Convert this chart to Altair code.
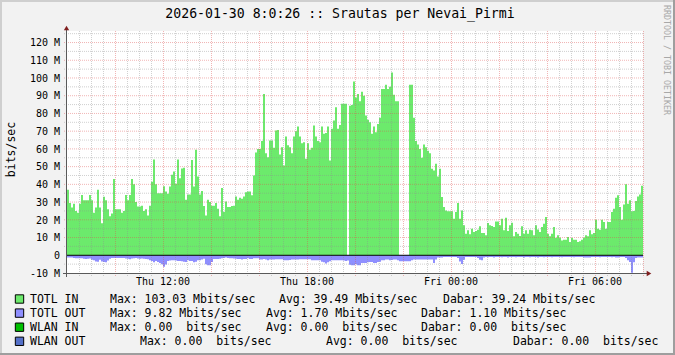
import altair as alt
import pandas as pd

FONT = "DejaVu Sans Mono"

# ---------------- data: Mbit/s, one value per 5-minute step from Thu 08:00 ----------------
totl_in = [
    37, 29.5, 27, 29, 25, 24, 29, 34, 31, 31, 31, 34, 31, 24, 27, 37, 27, 18, 33, 31,
    26, 22, 23.5, 43, 26, 26, 26, 24, 25, 34, 31, 34, 43, 40, 30, 27.5, 27.5, 28, 25, 26,
    22.5, 28, 41.5, 54, 40, 35, 35, 35, 39,
    36, 34.7, 38.8, 45.4, 47.3, 40.3, 54, 43.5, 49, 49.3, 31.3, 34.3, 34.3, 53.8, 38.8, 59.5,
    44.5, 34.3, 36.2, 27.8, 22.5, 31.3, 30, 28, 28, 29.5, 26.3, 22, 38, 24.4, 30.4, 27.2,
    27.2, 27.8, 28, 33.2, 31.3, 32.5, 31.9, 33.2, 35.6, 36, 36, 33.8, 45, 58, 60,
    60, 64.4, 91, 57.6, 55.3, 64.7, 64.7, 60.6, 70.4, 70.7, 56.8, 61, 50.7, 67, 62, 61,
    57.6, 67, 70, 72.6, 67, 63.2, 63.8, 54.4, 63.2, 59.5, 60.6, 73.2, 67, 64.4, 63.8, 72.6,
    68.5, 68.9, 72.6, 53.5, 71.3, 76, 83.5, 71.3, 73.5, 85.4, 85.4, 85.4, 0, 84.4, 84.8, 98, 89,
    91, 86.9, 92.3, 90, 78.8, 76.4, 75, 68.5, 72.6, 69.4, 74, 77.5, 93.8, 93.8, 96.2, 93.8,
    95, 103.03, 90.6, 86.9, 86.9, 0, 0, 0, 0, 0, 96.2, 96.2, 77.5, 64.4, 62.5, 60, 55, 62.5,
    61, 59, 57.6, 48.8, 47.8, 51.6, 44.5, 48.8, 32.8, 27.2, 25.3, 24.8, 24.8,
    24.8, 20.6, 24.4, 29.5, 20.6, 25.3, 16.9, 12.2, 14.1, 11.8, 15, 13.1, 13.7, 14.4, 16.3,
    12.6, 12.6, 11.3, 18.2, 16.9, 16.5, 15.9, 19.1, 19.1, 16.9, 20.6, 14.1, 21.2, 13.7, 16.9,
    18.4, 10.7, 13.1, 12.2, 10.9, 16.3, 12.2, 14.1, 12.2, 14.4, 14.1, 11.3, 16.9, 14.6, 13.1,
    15.9, 17.8, 21.6,
    12.2, 10.7, 12.2, 15.9, 9.9, 11.3, 9.9, 8.4, 8.8, 8.8, 10.3, 7.5, 9.8, 8.8, 8.8, 7.5,
    7.9, 8.8, 9.9, 11.3, 10.7, 14.1, 11.8, 12.6, 20.1, 15, 14.4, 20.1, 18.8, 15, 18.8, 18.8,
    24.4, 26.3, 32.5, 33.8, 27.2, 20.1, 28.7, 40, 29.1, 31, 24.8, 25, 30.6, 33.2, 34.3, 39.24,
]
totl_out = [
    1.3, 1.3, 1.3, 1.5, 1.7, 1.7, 1.7, 1.7, 2.0, 2.1, 2.0, 1.8, 2.5, 2.8, 3.5, 3.6, 2.5, 3.5,
    3.8, 3.9, 3.0, 2.0, 1.5, 1.5, 1.6, 1.5, 1.5, 1.6, 1.5, 1.8, 2.0, 2.2, 1.8, 1.7, 1.6, 1.8,
    1.9, 1.8, 2.0, 2.1, 2.2, 2.8, 3.2, 3.9, 3.2, 3.8, 4.3, 5.0, 6.5,
    5.2, 3.2, 3.0, 2.8, 2.8, 3.0, 3.2, 3.2, 3.4, 3.6, 3.8, 2.8, 3.2, 3.2, 4.0, 3.6, 2.8, 2.8,
    2.4, 2.0, 5.0, 5.6, 5.6, 3.8, 2.1, 2.1, 2.1, 2.0, 1.7, 1.6, 1.3, 1.6, 1.7, 1.7, 1.8, 1.9,
    2.1, 2.1, 2.4, 2.1, 2.1, 1.7, 2.1, 2.1, 1.7, 1.7, 1.7,
    2.4, 2.4, 2.1, 2.4, 2.8, 2.4, 2.4, 2.4, 2.3, 2.2, 2.2, 2.2, 2.8, 2.8, 2.8, 2.6, 2.4, 2.4,
    2.4, 2.4, 2.2, 2.2, 2.2, 2.2, 2.2, 2.2, 2.8, 2.8, 2.8, 2.8, 2.8, 3.6, 3.9, 4.7, 4.0, 3.4,
    2.8, 2.8, 2.8, 2.8, 2.8, 2.8, 3.0, 3.2, 3.0, 5.4, 5.6, 5.6, 5.0,
    5.6, 5.6, 4.3, 4.3, 4.3, 4.0, 3.8, 3.8, 4.3, 4.3, 3.8, 3.6, 2.8, 2.8, 2.4, 2.4, 2.8, 2.6,
    2.4, 2.4, 2.8, 3.4, 3.4, 3.4, 3.4, 3.4, 3.4, 2.8, 2.4, 2.4, 2.4, 2.4, 2.4, 2.4, 2.4, 2.4,
    2.4, 2.4, 4.3, 2.4, 1.3, 1.3, 1.3, 1.0, 1.0, 1.0, 1.0,
    1.0, 1.0, 1.0, 1.5, 3.5, 4.9, 2.5, 1.0, 1.0, 1.0, 1.0, 1.0, 1.0, 1.5, 2.5, 2.8, 1.2,
    1.0, 1.1, 1.0, 1.0, 1.2, 1.0, 1.0, 1.0, 1.1, 1.0, 1.0, 1.2, 1.0, 1.0, 1.0, 1.1, 1.0,
    1.0, 1.0, 1.2, 1.0, 1.0, 1.1, 1.0, 1.0, 1.0, 1.2, 1.0, 1.0, 1.1, 1.0,
    1.0, 1.0, 1.1, 1.0, 1.0, 1.0, 1.0, 1.1, 1.0, 1.0, 1.0, 1.0, 1.0, 1.1, 1.0, 1.0, 1.0, 1.0,
    1.2, 1.3, 1.2, 1.2, 1.0, 1.0, 1.0, 1.0, 1.1, 1.0, 1.0, 1.0, 1.0, 1.0, 1.1, 1.0,
    1.3, 1.3, 1.0, 1.0, 1.0, 1.5, 2.8, 3.8, 9.82, 4.0, 1.5, 1.3, 1.3, 1.3,
]
step_minutes = 5

x_tick_hours = [4, 10, 16, 22]
x_tick_labels = ["Thu 12:00", "Thu 18:00", "Fri 00:00", "Fri 06:00"]
y_tick_values = [-10, 0, 10, 20, 30, 40, 50, 60, 70, 80, 90, 100, 110, 120]
y_tick_labels = ["-10 M", "0", "10 M", "20 M", "30 M", "40 M", "50 M", "60 M",
                 "70 M", "80 M", "90 M", "100 M", "110 M", "120 M"]

legend_names = ["TOTL IN", "TOTL OUT", "WLAN IN", "WLAN OUT"]
legend_colors = ["#6CEA6C", "#8F8FFF", "#00C000", "#5470C8"]
legend_max = ["103.03 Mbits/sec", "9.82 Mbits/sec", "0.00  bits/sec", "0.00  bits/sec"]
legend_avg = ["39.49 Mbits/sec", "1.70 Mbits/sec", "0.00  bits/sec", "0.00  bits/sec"]
legend_cur = ["39.24 Mbits/sec", "1.10 Mbits/sec", "0.00  bits/sec", "0.00  bits/sec"]

title_text = "2026-01-30 8:0:26 :: Srautas per Nevai_Pirmi"
y_title = "bits/sec"
watermark = "RRDTOOL / TOBI OETIKER"

# ---------------- layout ----------------
W, H = 576, 242
GRID_MINOR = "#8F8F8F"
GRID_MAJOR = "#DE4F4F"
GRID_OPACITY = 0.42
ARROW = "#801F1F"
AXIS = "#5A5A5A"

n = min(len(totl_in), len(totl_out))
hours = [i * step_minutes / 60 for i in range(n)] + [24]
df = pd.DataFrame({
    "t": hours,
    "in": totl_in[:n] + [totl_in[n - 1]],
    "out": [-v for v in totl_out[:n]] + [-totl_out[n - 1]],
})

xs = alt.Scale(domain=[0, 24], nice=False, zero=False)
ys = alt.Scale(domain=[-10, 126.5], nice=False, zero=False)
X = alt.X("t:Q", scale=xs, axis=None)


def Yf(f):
    return alt.Y(f"{f}:Q", scale=ys, axis=None)


one = pd.DataFrame({"k": [0]})


def txt(s, x, y, size=11.5, align="left", angle=None, color="black", baseline="alphabetic", dy=0):
    kw = dict(font=FONT, fontSize=size, align=align, baseline=baseline, color=color)
    if angle is not None:
        kw["angle"] = angle
    if dy:
        kw["dy"] = dy
    return alt.Chart(one).mark_text(**kw).encode(
        x=alt.value(x), y=alt.value(y), text=alt.value(s.replace(" ", "\u00a0")))


def hrule(x1, x2, y, color, w=1):
    return alt.Chart(one).mark_rule(color=color, strokeWidth=w).encode(
        x=alt.value(x1), x2=alt.value(x2), y=alt.value(y))


def vrule(x, y1, y2, color, w=1):
    return alt.Chart(one).mark_rule(color=color, strokeWidth=w).encode(
        x=alt.value(x), y=alt.value(y1), y2=alt.value(y2))


layers = []
layers.append(alt.Chart(df).mark_area(interpolate="step-after", color=legend_colors[0], opacity=1)
              .encode(x=X, y=Yf("in"), y2=alt.datum(0)))
layers.append(alt.Chart(df).mark_area(interpolate="step-after", color=legend_colors[1], opacity=1)
              .encode(x=X, y=Yf("out"), y2=alt.datum(0)))

# grid
v_minor = [k * 0.5 for k in range(1, 48) if k % 4]
v_major = [k * 2 for k in range(1, 13)]
h_minor = [v for v in range(-5, 127, 10)]
h_major = [v for v in range(10, 121, 10)]
layers.append(alt.Chart(pd.DataFrame({"t": v_minor})).mark_rule(
    color=GRID_MINOR, strokeOpacity=GRID_OPACITY, strokeDash=[1, 1], strokeWidth=1, xOffset=0.5)
    .encode(x=X, y=alt.value(0), y2=alt.value(H + 3)))
layers.append(alt.Chart(pd.DataFrame({"t": v_major})).mark_rule(
    color=GRID_MAJOR, strokeOpacity=GRID_OPACITY, strokeDash=[1, 1], strokeWidth=1, xOffset=0.5)
    .encode(x=X, y=alt.value(0), y2=alt.value(H + 3)))
layers.append(alt.Chart(pd.DataFrame({"v": h_minor})).mark_rule(
    color=GRID_MINOR, strokeOpacity=GRID_OPACITY, strokeDash=[1, 1], strokeWidth=1)
    .encode(y=Yf("v"), x=alt.value(-3), x2=alt.value(W)))
layers.append(alt.Chart(pd.DataFrame({"v": h_major})).mark_rule(
    color=GRID_MAJOR, strokeOpacity=GRID_OPACITY, strokeDash=[1, 1], strokeWidth=1)
    .encode(y=Yf("v"), x=alt.value(-3), x2=alt.value(W)))

# zero line
layers.append(alt.Chart(pd.DataFrame({"v": [0]})).mark_rule(color="black", strokeWidth=1)
              .encode(y=Yf("v"), x=alt.value(0), x2=alt.value(W)))

# axes
layers.append(vrule(-0.5, -2, H + 4, AXIS))
layers.append(hrule(-4, W + 4, H + 0.5, AXIS))
layers.append(alt.Chart(one).mark_point(shape="triangle-up", filled=True, size=28, color=ARROW, opacity=1)
              .encode(x=alt.value(-0.5), y=alt.value(-3)))
layers.append(alt.Chart(one).mark_point(shape="triangle-right", filled=True, size=28, color=ARROW, opacity=1)
              .encode(x=alt.value(W + 6), y=alt.value(H + 0.5)))

# tick labels
layers.append(alt.Chart(pd.DataFrame({"t": x_tick_hours, "lab": x_tick_labels}))
              .mark_text(font=FONT, fontSize=10, align="center", baseline="alphabetic", color="black")
              .encode(x=X, y=alt.value(H + 12), text="lab:N"))
layers.append(alt.Chart(pd.DataFrame({"v": y_tick_values, "lab": y_tick_labels}))
              .mark_text(font=FONT, fontSize=10, align="right", baseline="alphabetic", color="black", dy=3.7)
              .encode(y=Yf("v"), x=alt.value(-7), text="lab:N"))

# title, y title, watermark
layers.append(txt(title_text, 273, -13, size=13.2, align="center"))
layers.append(txt(y_title, -52, 118.5, size=11.5, align="center", angle=270))
layers.append(txt(watermark, 596.5, -26, size=8.3, align="left", angle=90, color="#A8A8A8"))

# legend
col_x = [[-37, 43, 212, 376], [-37, 43, 199, 354], [-37, 43, 199, 354], [-37, 73, 259, 446]]
for r in range(4):
    base = 271.7 + 14.1 * r
    layers.append(alt.Chart(one).mark_square(size=70, filled=True, fill=legend_colors[r],
                                             stroke="black", strokeWidth=1, opacity=1)
                  .encode(x=alt.value(-47.5), y=alt.value(base - 3.7)))
    cx = col_x[r]
    layers.append(txt(legend_names[r], cx[0], base))
    layers.append(txt("Max: " + legend_max[r], cx[1], base))
    layers.append(txt("Avg: " + legend_avg[r], cx[2], base))
    layers.append(txt("Dabar: " + legend_cur[r], cx[3], base))

# frame
layers.append(hrule(-67, 608, -30, "#CFCFCF", 2))
layers.append(vrule(-66, -31, 324, "#CFCFCF", 2))
layers.append(hrule(-67, 608, 323, "#9E9E9E", 2))
layers.append(vrule(607, -31, 324, "#9E9E9E", 2))

chart = alt.layer(*layers).properties(
    width=W, height=H,
    padding={"left": 67, "top": 31, "right": 32, "bottom": 82},
    autosize=alt.AutoSizeParams(type="none"),
    background="#F2F2F2",
).configure_view(strokeWidth=0, fill="white")

chart.save("out.html", embed_options={"renderer": "svg", "actions": False})
